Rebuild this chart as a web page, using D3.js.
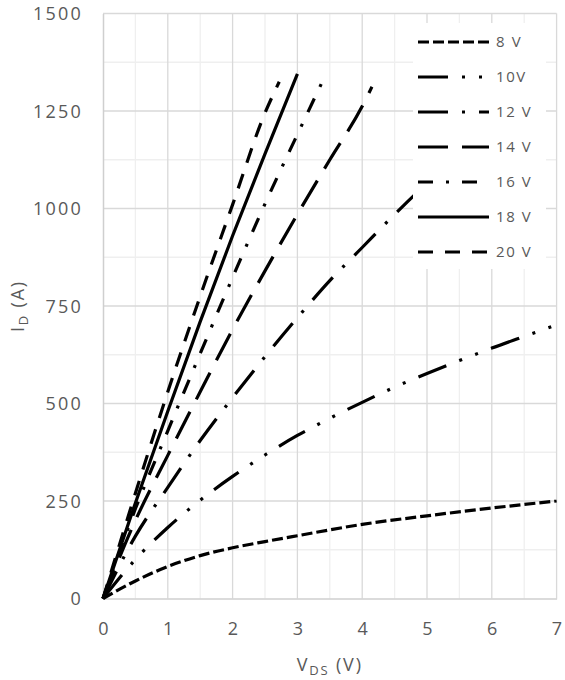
<!DOCTYPE html>
<html>
<head>
<meta charset="utf-8">
<script src="https://cdn.jsdelivr.net/npm/d3@7"></script>
<style>
  html, body { margin: 0; padding: 0; background: #fff; }
  svg { display: block; }
  text { font-family: "Open Sans", "Noto Sans", sans-serif; fill: #595959; }
</style>
</head>
<body>
<svg id="chart" width="565" height="680"></svg>
<script>
// Output characteristics: drain current vs drain-source voltage per gate voltage
const vgsLabels = ["8 V", "10V", "12 V", "14 V", "16 V", "18 V", "20 V"];
const vds8  = [0, 0.5, 1, 1.5, 2, 2.5, 3, 4, 5, 6, 7];
const id8   = [0, 45, 82, 110, 130, 146, 161, 190, 212, 232, 250];
const vds10 = [0, 0.5, 1, 1.5, 2, 2.5, 3, 3.5, 4, 4.5, 5, 5.5, 6, 6.5, 7];
const id10  = [0, 100, 182, 252, 313, 368, 418, 462, 503, 542, 577, 610, 642, 672, 702];
const vds12 = [0, 0.5, 1, 1.5, 2, 2.5, 3, 3.5, 4, 4.5, 5, 5.5, 6.1];
const id12  = [0, 160, 285, 405, 515, 620, 720, 815, 900, 985, 1065, 1140, 1320];
const vds14 = [0, 0.5, 1, 1.5, 2, 2.5, 3, 3.5, 4, 4.15];
const id14  = [0, 200, 367, 530, 690, 840, 985, 1125, 1262, 1312];
const vds16 = [0, 0.5, 1, 1.5, 2, 2.5, 3, 3.37];
const id16  = [0, 230, 430, 628, 823, 1012, 1190, 1320];
const vds18 = [0, 0.5, 1, 1.5, 2, 2.5, 3];
const id18  = [0, 245, 480, 710, 930, 1140, 1345];
const vds20 = [0, 0.5, 1, 1.5, 2, 2.5, 2.72];
const id20  = [0, 270, 530, 775, 1010, 1245, 1325];

const xTicks = [0, 1, 2, 3, 4, 5, 6, 7];
const yTicks = [0, 250, 500, 750, 1000, 1250, 1500];

const seriesV = [vds8, vds10, vds12, vds14, vds16, vds18, vds20];
const seriesI = [id8, id10, id12, id14, id16, id18, id20];
const dashes = ["11,4", "30,14,3,14,3,14", "30,14,3,14", "30,14", "15,13,3,13", null, "15,12"];

const svg = d3.select("#chart");
const plot = { left: 103, top: 13.5, right: 556.6, bottom: 598.5 };

const x = d3.scaleLinear().domain([0, 7]).range([plot.left, plot.right]);
const y = d3.scaleLinear().domain([0, 1500]).range([plot.bottom, plot.top]);

// minor grid
const minorX = d3.range(0.5, 7, 1);
const minorY = d3.range(125, 1500, 250);
svg.append("g").selectAll("line").data(minorX).join("line")
  .attr("x1", d => x(d)).attr("x2", d => x(d))
  .attr("y1", plot.top).attr("y2", plot.bottom)
  .attr("stroke", "#efefef").attr("stroke-width", 1.3);
svg.append("g").selectAll("line").data(minorY).join("line")
  .attr("x1", plot.left).attr("x2", plot.right)
  .attr("y1", d => y(d)).attr("y2", d => y(d))
  .attr("stroke", "#efefef").attr("stroke-width", 1.3);

// major grid
svg.append("g").selectAll("line").data(xTicks.slice(1)).join("line")
  .attr("x1", d => x(d)).attr("x2", d => x(d))
  .attr("y1", plot.top).attr("y2", plot.bottom)
  .attr("stroke", "#d9d9d9").attr("stroke-width", 1.3);
svg.append("g").selectAll("line").data(yTicks.slice(1)).join("line")
  .attr("x1", plot.left).attr("x2", plot.right)
  .attr("y1", d => y(d)).attr("y2", d => y(d))
  .attr("stroke", "#d9d9d9").attr("stroke-width", 1.3);

// axes
const xAxis = d3.axisBottom(x).tickValues(xTicks).tickSize(0).tickPadding(24).tickFormat(d3.format("d"));
const yAxis = d3.axisLeft(y).tickValues(yTicks).tickSize(0).tickPadding(20).tickFormat(d3.format("d"));

const gx = svg.append("g").attr("transform", `translate(0,${plot.bottom})`).call(xAxis);
const gy = svg.append("g").attr("transform", `translate(${plot.left},0)`).call(yAxis);
[gx, gy].forEach(g => {
  g.select(".domain").attr("stroke", "#cfcfcf").attr("stroke-width", 1.5);
  g.selectAll("text")
    .style("font-family", '"Open Sans", "Noto Sans", sans-serif')
    .style("font-size", "18px")
    .style("letter-spacing", "2.2px")
    .attr("fill", "#595959");
});
gy.selectAll("text").attr("dy", "0.35em");
gx.selectAll("text").attr("dx", "1px");

// curves
const line = d3.line().x(d => x(d[0])).y(d => y(d[1])).curve(d3.curveMonotoneX);
const curves = svg.append("g");
seriesV.forEach((vs, k) => {
  const pts = vs.map((v, j) => [v, seriesI[k][j]]);
  const p = curves.append("path")
    .attr("d", line(pts))
    .attr("fill", "none")
    .attr("stroke", "#000")
    .attr("stroke-width", 3.2)
    .attr("stroke-linejoin", "round");
  if (dashes[k]) p.attr("stroke-dasharray", dashes[k]);
});

// legend
const lg = svg.append("g");
lg.append("rect").attr("x", 413).attr("y", 23).attr("width", 133).attr("height", 246).attr("fill", "#fff");
vgsLabels.forEach((lab, k) => {
  const ry = 42 + k * 35;
  const l = lg.append("line")
    .attr("x1", 418).attr("x2", 489).attr("y1", ry).attr("y2", ry)
    .attr("stroke", "#000").attr("stroke-width", 3.2);
  if (dashes[k]) l.attr("stroke-dasharray", dashes[k]);
  lg.append("text").attr("x", 496).attr("y", ry).attr("dy", "0.36em")
    .style("font-size", "15px").style("letter-spacing", "1.6px").text(lab);
});

// axis titles
const xt = svg.append("text").attr("x", x(3.5)).attr("y", 671)
  .attr("text-anchor", "middle").style("font-size", "18px").style("letter-spacing", "1.8px");
xt.append("tspan").text("V");
xt.append("tspan").attr("dy", 4).style("font-size", "13px").text("DS");
xt.append("tspan").attr("dy", -4).text(" (V)");

const yt = svg.append("text")
  .attr("transform", `translate(24,${y(750)}) rotate(-90)`)
  .attr("text-anchor", "middle").style("font-size", "18px").style("letter-spacing", "1.8px");
yt.append("tspan").text("I");
yt.append("tspan").attr("dy", 4).style("font-size", "13px").text("D");
yt.append("tspan").attr("dy", -4).text(" (A)");
</script>
</body>
</html>
